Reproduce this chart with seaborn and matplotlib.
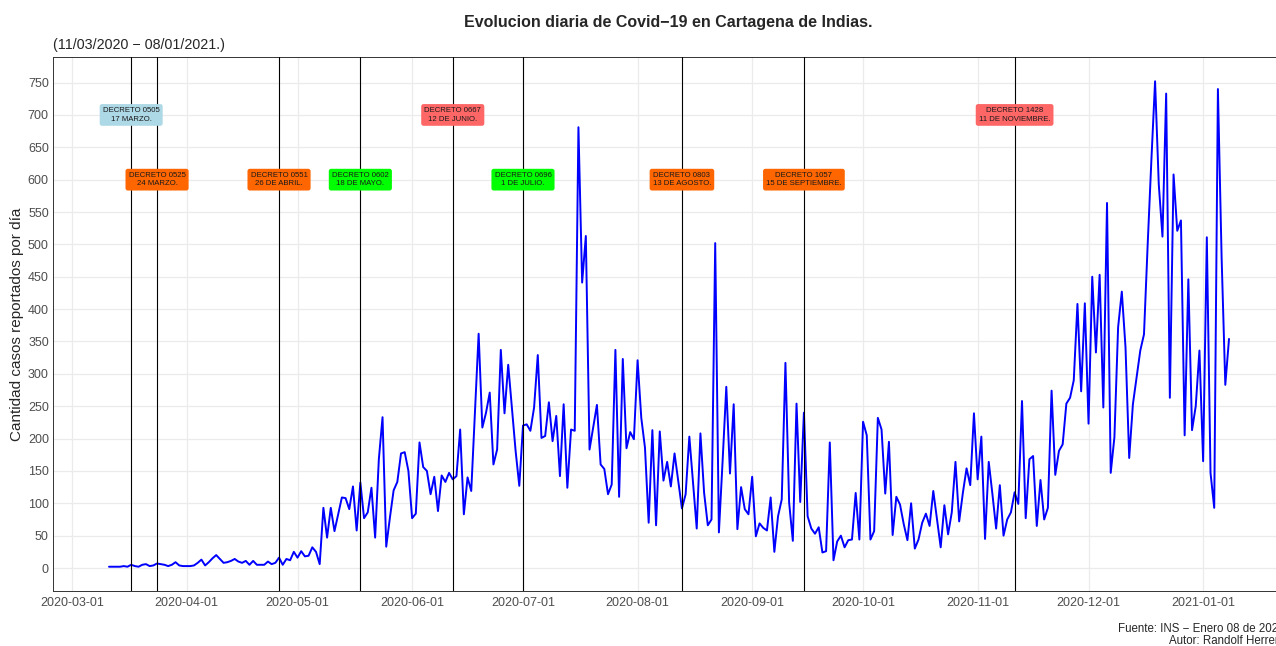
import pandas as pd
import matplotlib
matplotlib.use("Agg")
import matplotlib.pyplot as plt
import matplotlib.dates as mdates
import seaborn as sns

# Casos diarios reportados en Cartagena (11/03/2020 - 08/01/2021), leidos por mes
marzo = [2, 2, 2, 2, 3, 2, 5, 3, 2, 5, 6, 3, 4, 7, 6, 5, 3, 5, 9, 4, 3]
abril = [3, 3, 4, 8, 13, 4, 9, 15, 20, 14, 8, 9, 11, 14, 10, 8, 11, 5, 11, 5,
         5, 5, 10, 6, 8, 16, 5, 14, 12, 25]
mayo = [16, 26, 18, 19, 32, 25, 6, 93, 47, 93, 57, 83, 109, 108, 91, 126, 58,
        132, 77, 86, 124, 47, 168, 233, 33, 78, 120, 133, 177, 179, 150]
junio = [77, 84, 194, 156, 150, 114, 141, 88, 143, 133, 147, 137, 142, 214, 83,
         140, 119, 241, 362, 217, 240, 271, 160, 183, 337, 239, 314, 247, 181, 127]
julio = [220, 222, 212, 248, 329, 201, 204, 256, 196, 235, 142, 253, 124, 214,
         212, 681, 441, 513, 183, 217, 252, 160, 153, 114, 129, 337, 110, 323,
         185, 210, 199]
agosto = [321, 232, 186, 70, 213, 66, 211, 135, 164, 126, 177, 135, 92, 114,
          203, 131, 61, 208, 116, 66, 75, 502, 55, 165, 280, 146, 253, 60, 125,
          91, 83]
septiembre = [141, 49, 69, 62, 58, 109, 25, 80, 106, 317, 101, 42, 254, 102,
              240, 80, 61, 53, 63, 24, 26, 194, 12, 41, 50, 32, 43, 44, 116, 44]
octubre = [226, 205, 44, 57, 232, 214, 115, 195, 51, 110, 98, 68, 43, 100, 30,
           44, 70, 84, 65, 119, 76, 32, 97, 52, 86, 164, 72, 116, 154, 128, 239]
noviembre = [137, 203, 45, 164, 114, 61, 128, 50, 75, 86, 117, 99, 258, 77,
             168, 173, 65, 136, 75, 93, 274, 144, 181, 191, 254, 263, 290, 408,
             273, 409]
diciembre = [223, 450, 333, 453, 248, 564, 147, 202, 372, 427, 341, 170, 253,
             294, 336, 361, 500, 630, 752, 593, 512, 733, 263, 608, 521, 537,
             205, 446, 213, 250, 336]
enero = [165, 511, 147, 93, 740, 480, 283, 354]

casos = marzo + abril + mayo + junio + julio + agosto + septiembre + octubre + noviembre + diciembre + enero
fechas = pd.date_range("2020-03-11", periods=len(casos), freq="D")
df = pd.DataFrame({"fecha": fechas, "casos": casos})

# Decretos
decretos = ["0505", "0525", "0551", "0602", "0667", "0696", "0803", "1057", "1428"]
fechas_decreto = ["2020-03-17", "2020-03-24", "2020-04-26", "2020-05-18", "2020-06-12",
                  "2020-07-01", "2020-08-13", "2020-09-15", "2020-11-11"]
textos_decreto = ["17 MARZO.", "24 MARZO.", "26 DE ABRIL.", "18 DE MAYO.", "12 DE JUNIO.",
                  "1 DE JULIO.", "13 DE AGOSTO.", "15 DE SEPTIEMBRE.", "11 DE NOVIEMBRE."]
altura_etiqueta = [700, 600, 600, 600, 700, 600, 600, 600, 700]
colores_decreto = ["#ADD8E6", "#FF6600", "#FF6600", "#00FF00", "#FF6666",
                   "#00FF00", "#FF6600", "#FF6600", "#FF6666"]

sns.set_style("whitegrid", {"grid.color": "#EBEBEB", "axes.edgecolor": "black"})
plt.rcParams["font.family"] = ["Liberation Sans", "DejaVu Sans"]

fig = plt.figure(figsize=(12.76, 6.46), dpi=100)
ax = fig.add_axes([53 / 1276, 55 / 646, 1232 / 1276, 534 / 646])

sns.lineplot(data=df, x="fecha", y="casos", color="blue", linewidth=1.4, ax=ax, zorder=2)

for num, f, txt, h, col in zip(decretos, fechas_decreto, textos_decreto, altura_etiqueta, colores_decreto):
    d = pd.Timestamp(f)
    ax.axvline(d, color="black", linewidth=0.8, zorder=3)
    ax.text(d, h, f"DECRETO {num}\n{txt}", ha="center", va="center", fontsize=5.6,
            color="#1a1a1a", linespacing=1.3, zorder=4,
            bbox=dict(boxstyle="round,pad=0.4,rounding_size=0.3", fc=col, ec="none"))

inicio = fechas[0] - pd.Timedelta(days=15.15)
fin = fechas[-1] + pd.Timedelta(days=15.15)
ax.set_xlim(inicio, fin)
ax.set_ylim(-35.5, 789.5)
ax.set_yticks(range(0, 751, 50))
ax.xaxis.set_major_locator(mdates.MonthLocator())
ax.xaxis.set_major_formatter(mdates.DateFormatter("%Y-%m-%d"))
ax.tick_params(axis="both", labelsize=9, labelcolor="#4D4D4D", length=3,
               width=0.6, color="#333333", pad=1)
ax.tick_params(axis="y", pad=0)
ax.grid(True, color="#EBEBEB", linewidth=0.9)
for lado in ["top", "right", "left", "bottom"]:
    ax.spines[lado].set_visible(True)
    ax.spines[lado].set_linewidth(0.7)
    ax.spines[lado].set_color("#333333")
ax.set_xlabel("")
ax.set_ylabel("Cantidad casos reportados por día", fontsize=11, labelpad=3)

fig.text(668 / 1276, 1 - 22 / 646, "Evolucion diaria de Covid\u221219 en Cartagena de Indias.",
         ha="center", va="center", fontsize=11.5, fontweight="bold")
fig.text(53 / 1276, 1 - 45 / 646, "(11/03/2020 \u2212 08/01/2021.)",
         ha="left", va="center", fontsize=10.3)
fig.text(1285 / 1276, 1 - 629 / 646, "Fuente: INS \u2212 Enero 08 de 2021",
         ha="right", va="center", fontsize=8.3)
fig.text(1285 / 1276, 1 - 641 / 646, "Autor: Randolf Herrera",
         ha="right", va="center", fontsize=8.3)

fig.savefig("out.png", dpi=100)
